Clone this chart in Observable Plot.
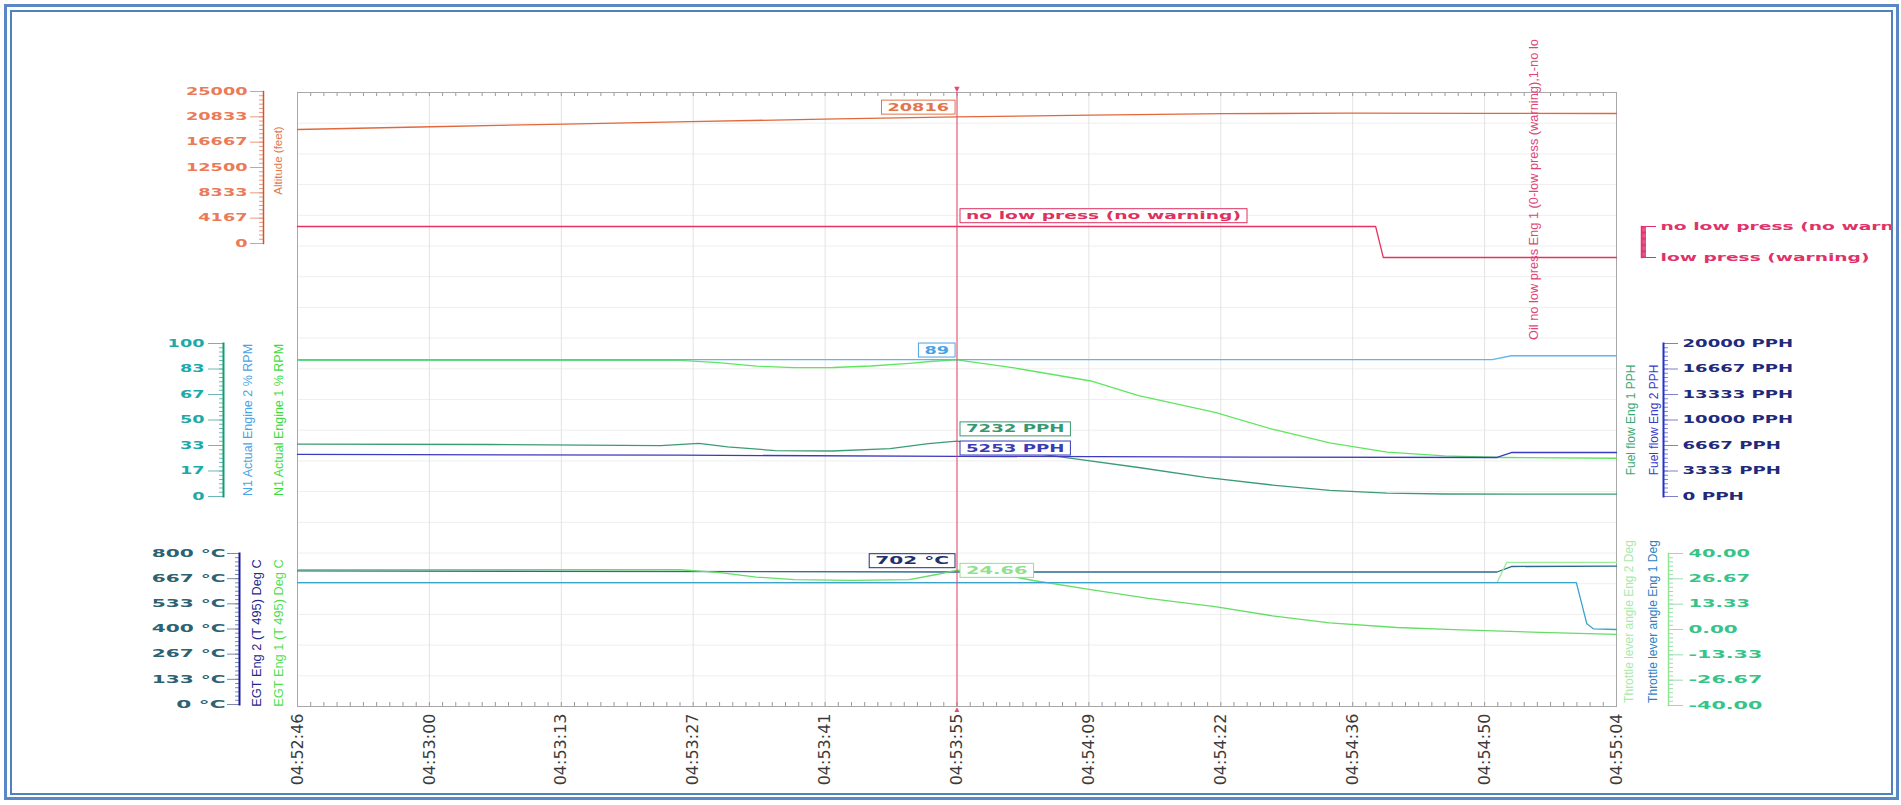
<!DOCTYPE html>
<html><head><meta charset="utf-8">
<script src="https://cdn.jsdelivr.net/npm/d3@7"></script>
<script src="https://cdn.jsdelivr.net/npm/@observablehq/plot@0.6"></script>
<style>
html,body{margin:0;padding:0;background:#fff;}
#wrap{position:relative;width:1901px;height:805px;overflow:hidden;background:#fff;}
#chart{position:absolute;left:0;top:0;width:1893px;height:805px;overflow:hidden;}
#chart svg{position:absolute;left:0;top:0;}
.b1{position:absolute;left:4px;top:4px;width:1889px;height:790px;border:3px solid #5a88c6;pointer-events:none;}
.b2{position:absolute;left:10px;top:10px;width:1879px;height:781px;border:2px solid #4f81bd;pointer-events:none;}
</style></head>
<body>
<div id="wrap"><div id="chart"></div><div class="b1"></div><div class="b2"></div></div>
<script>
// ---------- data ----------
const tickLabels = ["04:52:46","04:53:00","04:53:13","04:53:27","04:53:41","04:53:55","04:54:09","04:54:22","04:54:36","04:54:50","04:55:04"];
const spanSeconds = 138;          // 04:52:46 -> 04:55:04
const cursorTime = 69;            // 04:53:55

const altitudeTime = [0, 14, 28, 41, 55, 69, 83, 97, 110, 124, 138];
const altitudeFeet = [18750, 19200, 19650, 20050, 20450, 20816, 21100, 21350, 21430, 21410, 21380];
const altitudeTicks = [0, 4167, 8333, 12500, 16667, 20833, 25000];

const oilTime = [0, 112.8, 113.6, 138];
const oilState = [1, 1, 0, 0];
const oilLevels = ["low press (warning)", "no low press (no warning)"];

const n1Eng1Time = [0, 40, 44, 48, 52, 56, 60, 64, 66.5, 69, 75, 83, 88, 96, 102, 108, 114, 120, 126, 138];
const n1Eng1Pct  = [89, 89, 87.5, 85.2, 84.2, 84.3, 85.3, 87, 88.4, 89.3, 84, 75.5, 66, 55, 44, 35, 29, 26.5, 25.5, 25];
const n1Eng2Time = [0, 125, 127, 138];
const n1Eng2Pct  = [89.4, 89.4, 92, 92];
const n1Ticks = [0, 16.67, 33.33, 50, 66.67, 83.33, 100];

const ffEng1Time = [0, 20, 38, 42, 45, 50, 56, 62, 66, 69, 75, 81, 88, 95, 102, 108, 114, 120, 138];
const ffEng1Pph  = [6850, 6800, 6650, 6950, 6500, 6000, 5950, 6270, 6900, 7232, 6000, 4970, 3790, 2500, 1500, 800, 450, 330, 300];
const ffEng2Time = [0, 40, 69, 100, 125.5, 127, 138];
const ffEng2Pph  = [5500, 5400, 5253, 5150, 5100, 5750, 5750];
const ffTicks = [0, 3333.33, 6666.67, 10000, 13333.33, 16666.67, 20000];

const egtEng1Time = [0, 40, 44, 48, 52, 58, 64, 67, 69, 74, 77, 83, 89, 96, 102, 108, 115, 121, 130, 138];
const egtEng1C    = [715, 714, 700, 675, 662, 658, 662, 690, 712, 685, 657, 609, 562, 519, 470, 432, 408, 397, 382, 371];
const egtEng2Time = [0, 69, 125.5, 127, 138];
const egtEng2C    = [708, 702, 702, 731, 733];
const egtTicks = [0, 133.33, 266.67, 400, 533.33, 666.67, 800];

const tlaEng1Time = [0, 133.8, 134.9, 135.6, 138];
const tlaEng1Deg  = [24.66, 24.66, 3, 0.3, 0];
const tlaEng2Time = [0, 125.5, 126.5, 138];
const tlaEng2Deg  = [24.66, 24.66, 35.3, 35.3];
const tlaTicks = [-40, -26.67, -13.33, 0, 13.33, 26.67, 40];

// readouts at the cursor
const readAltitude = 20816, readOil = 1, readN1Eng2 = 89, readFfEng1 = 7232, readFfEng2 = 5253, readEgtEng2 = 702, readTlaEng2 = 24.66;

// ---------- layout ----------
const W = 1901, H = 805, X0 = 297, X1 = 1616;
const styleNone = {background: "transparent", maxWidth: "none", overflow: "visible"};
const tickFont = "DejaVu Sans", titleFont = "Liberation Sans";
const rows = (ts, vs) => ts.map((t, i) => ({t, v: vs[i]}));
const tickTimes = tickLabels.map((_, i) => i * spanSeconds / (tickLabels.length - 1));
const labelByTime = new Map(tickTimes.map((t, i) => [t, tickLabels[i]]));
const minorTimes = d3.range(0, (tickLabels.length - 1) * 10 + 1).map(i => i * spanSeconds / ((tickLabels.length - 1) * 10));
const gridRows = d3.range(1, 20);

function framePlot(top, bottom, yDomain, marks) {
  return Plot.plot({
    width: W, height: H, marginLeft: X0, marginRight: W - X1, marginTop: top, marginBottom: H - bottom,
    style: styleNone,
    x: {domain: [0, spanSeconds], axis: null},
    y: {domain: yDomain, axis: null},
    marks
  });
}
function readout(value, text, color, anchor, dx, dy) {
  return Plot.text([{t: cursorTime, v: value, s: text}], {
    x: "t", y: "v", text: "s", fill: color, textAnchor: anchor, dx, dy,
    fontFamily: tickFont, fontWeight: "bold", fontSize: 10
  });
}
const line = (data, color, w = 1.3) => Plot.line(data, {x: "t", y: "v", stroke: color, strokeWidth: w});

// background: grid, frame, time axis
const bg = Plot.plot({
  width: W, height: H, marginLeft: X0, marginRight: W - X1, marginTop: 92, marginBottom: H - 706,
  style: styleNone,
  x: {domain: [0, spanSeconds]},
  y: {domain: [0, 20], axis: null},
  marks: [
    Plot.ruleY(gridRows, {stroke: "#eeeeee"}),
    Plot.ruleX(tickTimes, {stroke: "#e3e3e3"}),
    Plot.ruleX(minorTimes, {stroke: "#9a9a9a", insetBottom: 610}),
    Plot.ruleX(minorTimes, {stroke: "#9a9a9a", insetTop: 610}),
    Plot.frame({stroke: "#a8a8a8"}),
    Plot.axisX(tickTimes, {anchor: "bottom", tickSize: 0, tickPadding: 7, tickRotate: -90,
      tickFormat: d => labelByTime.get(d), fontSize: 16, fontFamily: "DejaVu Sans", fill: "#3a3a3a", label: null})
  ]
});

const pAlt = framePlot(91, 243, [0, 25000], [
  line(rows(altitudeTime, altitudeFeet), "#e2683c"),
  readout(readAltitude, String(readAltitude), "#e2754c", "end", -8, -9.5)
]);
const pOil = framePlot(226, 257, [0, 1], [
  line(rows(oilTime, oilState), "#e83262"),
  readout(readOil, oilLevels[readOil], "#e0305e", "start", 9, -10.5)
]);
const pN1 = framePlot(343, 496, [0, 100], [
  line(rows(n1Eng1Time, n1Eng1Pct), "#5fe65f"),
  line(rows(n1Eng2Time, n1Eng2Pct), "#62b4ec"),
  readout(readN1Eng2, String(readN1Eng2), "#4aa3e3", "end", -8, -10)
]);
const pFF = framePlot(343, 496, [0, 20000], [
  line(rows(ffEng1Time, ffEng1Pph), "#3d9b74"),
  line(rows(ffEng2Time, ffEng2Pph), "#3b3bbf"),
  readout(readFfEng1, readFfEng1 + " PPH", "#3a9870", "start", 9, -12),
  readout(readFfEng2, readFfEng2 + " PPH", "#3b3bb5", "start", 9, -8)
]);
const pEGT = framePlot(553, 704, [0, 800], [
  line(rows(egtEng2Time, egtEng2C), "#2b6a8c"),
  line(rows(egtEng1Time, egtEng1C), "#66dd66"),
  readout(readEgtEng2, readEgtEng2 + " °C", "#22306e", "end", -8, -11)
]);
const pTLA = framePlot(553, 705, [-40, 40], [
  line(rows(tlaEng2Time, tlaEng2Deg), "#9ced9c"),
  line(rows(tlaEng1Time, tlaEng1Deg), "#3ba2c9"),
  readout(readTlaEng2, readTlaEng2.toFixed(2), "#8fe08f", "start", 9, -12)
]);

const cursor = Plot.plot({
  width: W, height: H, marginLeft: X0, marginRight: W - X1, marginTop: 92, marginBottom: H - 706,
  style: styleNone,
  x: {domain: [0, spanSeconds], axis: null},
  y: {domain: [0, 20], axis: null},
  marks: [
    Plot.ruleX([cursorTime], {stroke: "#e8486a", strokeWidth: 1}),
    Plot.text([cursorTime], {x: d => d, text: () => "▼", frameAnchor: "top", dy: -7, fill: "#e8486a", fontSize: 9}),
    Plot.text([cursorTime], {x: d => d, text: () => "▲", frameAnchor: "bottom", dy: 5, fill: "#e8486a", fontSize: 8})
  ]
});

function yAxisPlot({side, at, top, bottom, domain, ticks, format, labelColor, tickColor, lineColor, lineWidth, tickSize, tickPadding, titles}) {
  const left = side === "left";
  const minor = d3.range(37).map(i => domain[0] + (domain[1] - domain[0]) * i / 36);
  return Plot.plot({
    width: W, height: H,
    marginLeft: left ? at : at - 1,
    marginRight: left ? W - at - 1 : W - at,
    marginTop: top, marginBottom: H - bottom,
    style: styleNone,
    y: {domain, axis: null},
    marks: [
      Plot.axisY(minor, {anchor: side, tickSize: 4, fill: "none", stroke: tickColor, label: null}),
      Plot.axisY(ticks, {anchor: side, tickSize, tickPadding, tickFormat: format, fill: labelColor, stroke: tickColor,
        label: null, fontFamily: tickFont, fontWeight: "bold", fontSize: 10}),
      Plot.frame({anchor: side, stroke: lineColor, strokeWidth: lineWidth}),
      ...titles.map(tt => Plot.text([tt.text], {frameAnchor: side, rotate: -90, dx: tt.dx, dy: tt.dy || 0,
        fill: tt.color, fontSize: tt.size || 12, fontFamily: titleFont, textAnchor: tt.anchor || "middle"}))
    ]
  });
}

const axAlt = yAxisPlot({side: "left", at: 263, top: 91, bottom: 243, domain: [0, 25000], ticks: altitudeTicks,
  format: d => String(d), labelColor: "#ea7a58", tickColor: "#e79a80", lineColor: "#d9531e", lineWidth: 1.5,
  tickSize: 13, tickPadding: 3,
  titles: [{text: "Altitude (feet)", dx: 15, dy: -7, color: "#e07a4a", size: 11.5}]});
const axOil = yAxisPlot({side: "right", at: 1641, top: 226, bottom: 257, domain: [0, 1], ticks: [0, 1],
  format: d => oilLevels[d], labelColor: "#e0336a", tickColor: "#e0336a", lineColor: "#e0336a", lineWidth: 1.5,
  tickSize: 14, tickPadding: 5,
  titles: [{text: "Oil no low press Eng 1 (0-low press (warning),1-no lo", dx: -108, dy: 98, color: "#e0457a", size: 12.8, anchor: "start"}]});
const axN1 = yAxisPlot({side: "left", at: 223, top: 343, bottom: 496, domain: [0, 100], ticks: n1Ticks,
  format: d => d.toFixed(0), labelColor: "#1fa9a6", tickColor: "#6cb8b8", lineColor: "#0c9f6e", lineWidth: 2,
  tickSize: 15, tickPadding: 4,
  titles: [{text: "N1 Actual Engine 2 % RPM", dx: 24, color: "#4aa3e3", size: 12.5},
           {text: "N1 Actual Engine 1 % RPM", dx: 55, color: "#3ddc3d", size: 12.5}]});
const axFF = yAxisPlot({side: "right", at: 1663, top: 343, bottom: 496, domain: [0, 20000], ticks: ffTicks,
  format: d => d.toFixed(0) + " PPH", labelColor: "#1f2a7c", tickColor: "#8080c8", lineColor: "#2233cc", lineWidth: 2,
  tickSize: 14, tickPadding: 5,
  titles: [{text: "Fuel flow Eng 1 PPH", dx: -32, color: "#3aa874", size: 12},
           {text: "Fuel flow Eng 2 PPH", dx: -9, color: "#3b3bd0", size: 12}]});
const axEGT = yAxisPlot({side: "left", at: 239, top: 553, bottom: 704, domain: [0, 800], ticks: egtTicks,
  format: d => d.toFixed(0) + " °C", labelColor: "#2c6272", tickColor: "#7a8aa8", lineColor: "#1818a0", lineWidth: 2,
  tickSize: 12, tickPadding: 2,
  titles: [{text: "EGT Eng 2 (T 495) Deg C", dx: 17, dy: 4, color: "#23278f", size: 12.8},
           {text: "EGT Eng 1 (T 495) Deg C", dx: 39, dy: 4, color: "#4ddf4d", size: 12.8}]});
const axTLA = yAxisPlot({side: "right", at: 1668, top: 553, bottom: 705, domain: [-40, 40], ticks: tlaTicks,
  format: d => d.toFixed(2), labelColor: "#36c489", tickColor: "#9adcb0", lineColor: "#8fe88f", lineWidth: 1.5,
  tickSize: 14, tickPadding: 6,
  titles: [{text: "Throttle lever angle Eng 2 Deg", dx: -39, dy: -8, color: "#a8eaa8", size: 12},
           {text: "Throttle lever angle Eng 1 Deg", dx: -15, dy: -8, color: "#2f7fc4", size: 12}]});

const chart = document.getElementById("chart");
const panels = [pAlt, pOil, pN1, pFF, pEGT, pTLA];
const axes = [axAlt, axOil, axN1, axFF, axEGT, axTLA];
[bg, ...panels, cursor, ...axes].forEach(s => chart.appendChild(s));

// wide, stretched lettering as in the reference
function stretch(nodes, perChar) {
  nodes.each(function() {
    const n = this.textContent.length;
    this.setAttribute("textLength", n * perChar);
    this.setAttribute("lengthAdjust", "spacingAndGlyphs");
  });
}
axes.forEach((s, i) => stretch(d3.select(s).selectAll('g[aria-label="y-axis tick label"] text'), i === 1 ? 11 : 12.3));
panels.forEach((s, i) => stretch(d3.select(s).selectAll('g[aria-label="text"] text'), i === 1 ? 11 : 12.3));

// boxes round the cursor readouts
panels.forEach(s => {
  d3.select(s).selectAll('g[aria-label="text"] text').each(function() {
    const bb = this.getBBox();
    const color = this.parentNode.getAttribute("fill") || this.getAttribute("fill") || "#333";
    const r = document.createElementNS("http://www.w3.org/2000/svg", "rect");
    r.setAttribute("x", bb.x - 6); r.setAttribute("y", bb.y - 1.5);
    r.setAttribute("width", bb.width + 12); r.setAttribute("height", bb.height + 3);
    r.setAttribute("fill", "white"); r.setAttribute("stroke", color); r.setAttribute("stroke-width", 1);
    if (this.getAttribute("transform")) r.setAttribute("transform", this.getAttribute("transform"));
    this.parentNode.insertBefore(r, this);
  });
});
</script>
</body></html>
